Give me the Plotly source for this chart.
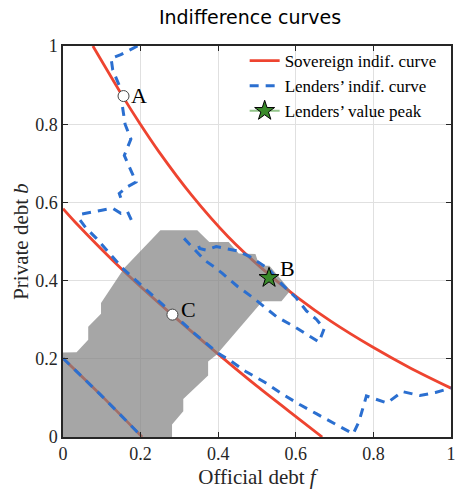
import plotly.graph_objects as go

# ---------------- data ----------------
# Sovereign indifference curves (three levels)
sov_hi_f = [0.077, 0.156, 0.196, 0.247, 0.332, 0.425, 0.514, 0.603, 0.692, 0.798, 0.896, 1.0]
sov_hi_b = [1.0, 0.868, 0.805, 0.730, 0.618, 0.513, 0.430, 0.358, 0.295, 0.230, 0.176, 0.125]
sov_mid_f = [0.0, 0.031, 0.153, 0.281, 0.40, 0.50, 0.611, 0.668]
sov_mid_b = [0.584, 0.550, 0.428, 0.313, 0.212, 0.130, 0.044, 0.0]
sov_lo_f = [0.0, 0.103, 0.204]
sov_lo_b = [0.2015, 0.102, 0.0]

# Lenders' indifference curves (contour pieces)
lend1_f = [0.192, 0.166, 0.149, 0.124, 0.128, 0.137, 0.156, 0.153, 0.160, 0.175, 0.158, 0.179, 0.188, 0.166, 0.145, 0.153]
lend1_b = [1.0, 0.987, 0.978, 0.968, 0.94, 0.918, 0.872, 0.847, 0.800, 0.762, 0.720, 0.673, 0.652, 0.640, 0.623, 0.600]
lend2_f = [0.176, 0.166, 0.149, 0.128, 0.100, 0.077, 0.048, 0.043, 0.058, 0.086, 0.120, 0.153, 0.220, 0.282, 0.340,
           0.400, 0.430, 0.470, 0.520, 0.565, 0.610, 0.654, 0.700, 0.748, 0.763, 0.782, 0.835, 0.875, 0.920, 0.960, 1.0]
lend2_b = [0.555, 0.577, 0.572, 0.585, 0.580, 0.576, 0.570, 0.556, 0.536, 0.508, 0.470, 0.432, 0.372, 0.316, 0.264,
           0.214, 0.196, 0.168, 0.140, 0.110, 0.083, 0.059, 0.034, 0.008, 0.040, 0.105, 0.087, 0.116, 0.106, 0.114, 0.125]
lend3_f = [0.0, 0.103, 0.204]
lend3_b = [0.2015, 0.102, 0.0]
lend4_f = [0.312, 0.333, 0.350, 0.365, 0.390, 0.410, 0.450, 0.490, 0.550, 0.600, 0.640, 0.660, 0.673, 0.654, 0.628,
           0.600, 0.575, 0.555, 0.530, 0.500, 0.480, 0.450, 0.420, 0.395, 0.368, 0.352, 0.344]
lend4_b = [0.508, 0.487, 0.468, 0.452, 0.435, 0.419, 0.385, 0.356, 0.308, 0.280, 0.255, 0.243, 0.277, 0.300, 0.322,
           0.357, 0.380, 0.400, 0.430, 0.449, 0.462, 0.476, 0.482, 0.487, 0.478, 0.482, 0.505]

# Shaded region
region_f = [0.251, 0.346, 0.377, 0.427, 0.453, 0.496, 0.506, 0.532, 0.586, 0.563, 0.514, 0.395, 0.374, 0.374,
            0.310, 0.310, 0.281, 0.281, 0.0, 0.0, 0.035, 0.065, 0.065, 0.098, 0.098, 0.158, 0.251]
region_b = [0.529, 0.529, 0.499, 0.499, 0.469, 0.468, 0.438, 0.438, 0.375, 0.347, 0.347, 0.210, 0.193, 0.157,
            0.097, 0.066, 0.032, 0.0, 0.0, 0.216, 0.217, 0.249, 0.282, 0.315, 0.343, 0.432, 0.529]

# Labelled points
pt_names = ["A", "C"]
pt_f = [0.156, 0.282]
pt_b = [0.872, 0.313]
peak_f = [0.531]
peak_b = [0.407]
x_ticks = [0, 0.2, 0.4, 0.6, 0.8, 1]
y_ticks = [0, 0.2, 0.4, 0.6, 0.8, 1]

# ---------------- styling ----------------
RED = "#ee4430"
BLUE = "#2b6fd0"
SERIF = "Liberation Serif, Times New Roman, serif"
DASH = "9px,7px"

fig = go.Figure()
first = True
for fx, by in [(sov_hi_f, sov_hi_b), (sov_mid_f, sov_mid_b), (sov_lo_f, sov_lo_b)]:
    fig.add_trace(go.Scatter(x=fx, y=by, mode="lines", line=dict(color=RED, width=2.8, shape="spline", smoothing=0.8),
                             name="Sovereign indif. curve", showlegend=first, hoverinfo="skip"))
    first = False

fig.add_trace(go.Scatter(x=region_f, y=region_b, mode="lines", fill="toself", fillcolor="rgba(128,128,128,0.7)",
                         line=dict(width=0), showlegend=False, hoverinfo="skip"))

first = True
for fx, by in [(lend1_f, lend1_b), (lend2_f, lend2_b), (lend3_f, lend3_b), (lend4_f, lend4_b)]:
    fig.add_trace(go.Scatter(x=fx, y=by, mode="lines", line=dict(color=BLUE, width=3, dash=DASH),
                             name="Lenders\u2019 indif. curve", showlegend=first, hoverinfo="skip"))
    first = False

fig.add_trace(go.Scatter(x=pt_f, y=pt_b, mode="markers",
                         marker=dict(size=11, color="white", line=dict(color="#444444", width=1)),
                         showlegend=False, hoverinfo="skip"))
fig.add_trace(go.Scatter(x=peak_f, y=peak_b, mode="lines+markers", name="Lenders\u2019 value peak",
                         line=dict(color="#93c48a", width=2),
                         marker=dict(symbol="star", size=15, color="#3a8a2a", line=dict(color="black", width=1))))

# point labels
labels = [("A", 0.171, 0.874), ("B", 0.554, 0.430), ("C", 0.300, 0.325)]
for t, lx, ly in labels:
    fig.add_annotation(x=lx, y=ly, text=t, showarrow=False, xanchor="left", yanchor="middle",
                       font=dict(family=SERIF, size=22, color="black"))

axis_common = dict(range=[0, 1], showgrid=True, gridcolor="#e0e0e0", gridwidth=1, zeroline=False,
                   showline=True, linecolor="#262626", linewidth=1.5, mirror="ticks",
                   ticks="inside", ticklen=5, tickwidth=1, tickcolor="#262626",
                   tickfont=dict(family=SERIF, size=18, color="#262626"))

fig.update_xaxes(**axis_common, tickvals=x_ticks, ticktext=[f"{v:g}" for v in x_ticks],
                 title=dict(text="Official debt <i>f</i>", font=dict(family=SERIF, size=21, color="#262626"), standoff=6))
fig.update_yaxes(**axis_common, tickvals=y_ticks, ticktext=[f"{v:g}" for v in y_ticks],
                 title=dict(text="Private debt <i>b</i>", font=dict(family=SERIF, size=21, color="#262626"), standoff=1))

fig.update_layout(
    width=461, height=490,
    margin=dict(l=63, r=5, t=46, b=50),
    plot_bgcolor="white", paper_bgcolor="white",
    title=dict(text="Indifference curves", x=250 / 461, xanchor="center", y=1 - 17 / 490, yanchor="middle",
               font=dict(family="DejaVu Sans", size=19, color="black")),
    legend=dict(x=(247 - 63) / 393, y=1.0 + 3 / 394, xanchor="left", yanchor="top", bgcolor="rgba(0,0,0,0)",
                borderwidth=0, font=dict(family=SERIF, size=17, color="black"), tracegroupgap=0),
    showlegend=True,
)

fig.write_html("out.html")
